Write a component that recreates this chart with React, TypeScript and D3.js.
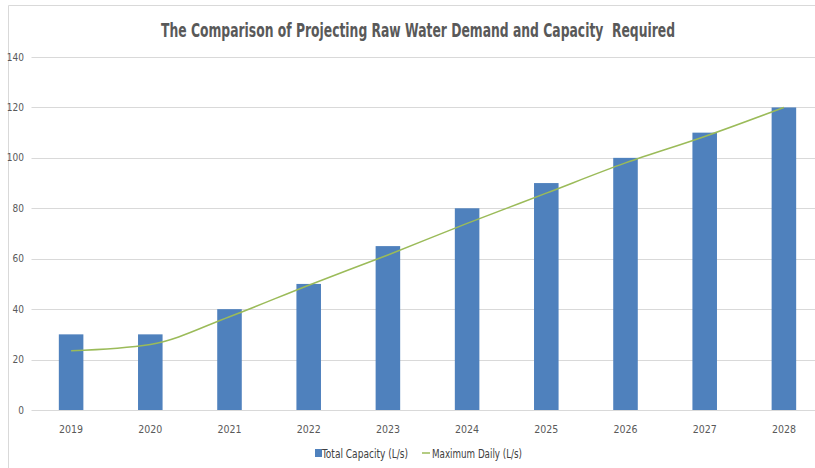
import * as d3 from "d3";

const W = 815, H = 468;
const PAD = { left: 31.5, right: -8.5, top: 57, bottom: 58 };

const years = ["2019", "2020", "2021", "2022", "2023", "2024", "2025", "2026", "2027", "2028"];
const totalCapacity = [30, 30, 40, 50, 65, 80, 90, 100, 110, 120];
const maximumDaily = [23.5, 26, 37, 49.5, 61.5, 74, 86, 98, 108.5, 120];
const yTicks = [0, 20, 40, 60, 80, 100, 120, 140];

const FONT = "'Liberation Sans Narrow', 'DejaVu Sans Condensed', 'Liberation Sans', sans-serif";

export default function App() {
  const x = d3.scaleBand(years, [PAD.left, W - PAD.right]).paddingInner(0.69).paddingOuter(0.345);
  const xc = (c: string) => x(c)! + x.bandwidth() / 2;
  const y = d3.scaleLinear([0, 140], [H - PAD.bottom, PAD.top]);

  const line = d3
    .line<number>()
    .x((_, i) => xc(years[i]))
    .y((d) => y(d))
    .curve(d3.curveMonotoneX);

  return (
    <div style={{ position: "absolute", left: 0, top: 0 }}>
      <svg width={W} height={H} style={{ display: "block", background: "#fff" }}>
        {/* frame */}
        <line x1={8.5} y1={5.5} x2={W} y2={5.5} stroke="#d9d9d9" />
        <line x1={8.5} y1={5.5} x2={8.5} y2={H} stroke="#d9d9d9" />

        <text x={418} y={37} textAnchor="middle" fontSize={20} fontWeight="bold" fill="#595959"
          fontFamily={FONT} textLength={514} lengthAdjust="spacingAndGlyphs" style={{ whiteSpace: "pre" }}>
          {"The Comparison of Projecting Raw Water Demand and Capacity  Required"}
        </text>

        {/* grid */}
        {yTicks.map((t) => (
          <g key={t}>
            <line x1={PAD.left} x2={W} y1={Math.round(y(t)) + 0.5} y2={Math.round(y(t)) + 0.5}
              stroke="#d9d9d9" strokeWidth={1} />
            <text x={24} y={y(t) + 3.5} textAnchor="end" fontSize={10} fill="#595959" fontFamily={FONT}>
              {t}
            </text>
          </g>
        ))}

        {/* bars */}
        {years.map((c, i) => (
          <rect key={c} x={x(c)} width={x.bandwidth()} y={y(totalCapacity[i])}
            height={y(0) - y(totalCapacity[i])} fill="#4F81BD" />
        ))}

        {/* line */}
        <path d={line(maximumDaily) ?? ""} fill="none" stroke="#9BBB59" strokeWidth={1.5} />

        {/* x labels */}
        {years.map((c) => (
          <text key={c} x={xc(c)} y={433} textAnchor="middle" fontSize={10.5} fill="#595959" fontFamily={FONT}>
            {c}
          </text>
        ))}

        {/* legend */}
        <rect x={315} y={449} width={7} height={8} fill="#4F81BD" />
        <text x={322} y={457.5} fontSize={12.5} fill="#404040" fontFamily={FONT} textLength={86}
          lengthAdjust="spacingAndGlyphs">
          Total Capacity (L/s)
        </text>
        <line x1={422} x2={430} y1={453} y2={453} stroke="#9BBB59" strokeWidth={1.5} />
        <text x={432} y={457.5} fontSize={12.5} fill="#404040" fontFamily={FONT} textLength={90}
          lengthAdjust="spacingAndGlyphs">
          Maximum Daily (L/s)
        </text>
      </svg>
    </div>
  );
}
